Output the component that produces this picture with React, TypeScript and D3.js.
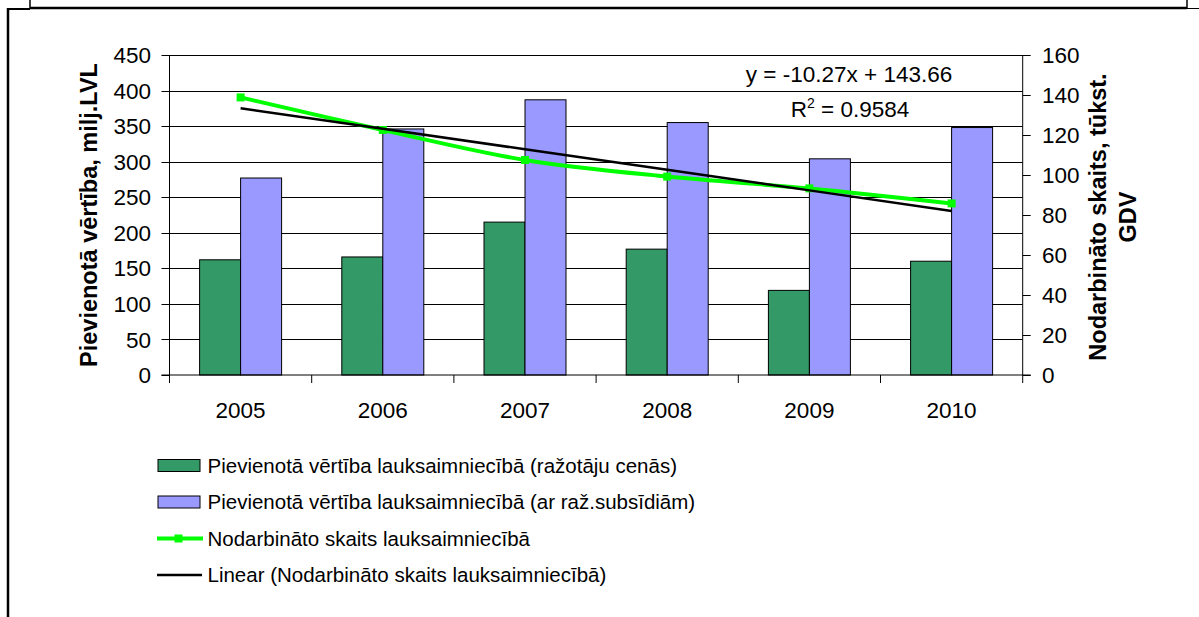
import React, { useRef, useEffect } from 'react';
import * as d3 from 'd3';

const years = ['2005', '2006', '2007', '2008', '2009', '2010'];
const valueProducerPrices = [162, 166, 215, 177, 119, 160];
const valueWithSubsidies = [277, 346, 387, 355, 304, 348];
const employed = [138.8, 122.5, 107.5, 99.2, 93.3, 85.8];
const trendSlope = -10.27;
const trendIntercept = 143.66;
const trendR2 = 0.9584;
const leftTicks = [0, 50, 100, 150, 200, 250, 300, 350, 400, 450];
const rightTicks = [0, 20, 40, 60, 80, 100, 120, 140, 160];
const legendLabels = [
  'Pievienotā vērtība lauksaimniecībā (ražotāju cenās)',
  'Pievienotā vērtība lauksaimniecībā (ar raž.subsīdiām)',
  'Nodarbināto skaits lauksaimniecībā',
  'Linear (Nodarbināto skaits lauksaimniecībā)'
];

const FONT = '"Liberation Sans", Arial, sans-serif';

const draw = (svgEl: SVGSVGElement) => {
  const svg = d3.select(svgEl);
  svg.selectAll('*').remove();

  const left = 169.5;
  const right = 1022.7;
  const top = 55;
  const bottom = 375;

  const x = d3.scaleBand().domain(years).range([left, right]);
  const yL = d3.scaleLinear().domain([0, 450]).range([bottom, top]);
  const yR = d3.scaleLinear().domain([0, 160]).range([bottom, top]);
  const barW = 41;
  const cx = (i: number) => x(years[i])! + x.bandwidth() / 2;

  // outer frame (page table borders)
  const frame = svg.append('g').attr('stroke', '#000').attr('fill', 'none');
  frame.append('line').attr('x1', 8).attr('y1', 8).attr('x2', 8).attr('y2', 617).attr('stroke-width', 2.5);
  frame.append('line').attr('x1', 8).attr('y1', 9).attr('x2', 30).attr('y2', 9).attr('stroke-width', 2);
  frame.append('line').attr('x1', 30).attr('y1', 8).attr('x2', 1187).attr('y2', 8).attr('stroke-width', 2.5);
  frame.append('line').attr('x1', 1187).attr('y1', 8.5).attr('x2', 1199).attr('y2', 8.5).attr('stroke-width', 1);
  frame.append('line').attr('x1', 30).attr('y1', 0).attr('x2', 30).attr('y2', 8).attr('stroke-width', 1.5);
  frame.append('line').attr('x1', 1187).attr('y1', 0).attr('x2', 1187).attr('y2', 8).attr('stroke-width', 1.5);

  // gridlines
  svg
    .append('g')
    .selectAll('line')
    .data(leftTicks.filter((t) => t > 0))
    .join('line')
    .attr('x1', left)
    .attr('x2', right)
    .attr('y1', (d) => Math.round(yL(d)) + 0.5)
    .attr('y2', (d) => Math.round(yL(d)) + 0.5)
    .attr('stroke', '#000')
    .attr('stroke-width', 1);

  // bars
  const groups = svg
    .append('g')
    .selectAll('g')
    .data(years)
    .join('g')
    .attr('transform', (d, i) => `translate(${cx(i)},0)`);

  groups
    .append('rect')
    .attr('x', -barW)
    .attr('y', (d, i) => yL(valueProducerPrices[i]))
    .attr('width', barW)
    .attr('height', (d, i) => bottom - yL(valueProducerPrices[i]))
    .attr('fill', '#339966')
    .attr('stroke', '#000')
    .attr('stroke-width', 1);

  groups
    .append('rect')
    .attr('x', 0)
    .attr('y', (d, i) => yL(valueWithSubsidies[i]))
    .attr('width', barW)
    .attr('height', (d, i) => bottom - yL(valueWithSubsidies[i]))
    .attr('fill', '#9999FF')
    .attr('stroke', '#000')
    .attr('stroke-width', 1);

  // axes
  const axes = svg.append('g').attr('stroke', '#000').attr('stroke-width', 1);
  axes.append('line').attr('x1', left).attr('x2', left).attr('y1', top).attr('y2', bottom);
  axes.append('line').attr('x1', right).attr('x2', right).attr('y1', top).attr('y2', bottom);
  axes.append('line').attr('x1', left - 8).attr('x2', right + 8).attr('y1', bottom).attr('y2', bottom);

  axes
    .selectAll('line.tl')
    .data(leftTicks)
    .join('line')
    .attr('class', 'tl')
    .attr('x1', left - 8)
    .attr('x2', left)
    .attr('y1', (d) => Math.round(yL(d)) + 0.5)
    .attr('y2', (d) => Math.round(yL(d)) + 0.5);

  axes
    .selectAll('line.tr')
    .data(rightTicks)
    .join('line')
    .attr('class', 'tr')
    .attr('x1', right)
    .attr('x2', right + 8)
    .attr('y1', (d) => Math.round(yR(d)) + 0.5)
    .attr('y2', (d) => Math.round(yR(d)) + 0.5);

  axes
    .selectAll('line.tb')
    .data([...years.map((d) => x(d)!), right])
    .join('line')
    .attr('class', 'tb')
    .attr('x1', (d) => d)
    .attr('x2', (d) => d)
    .attr('y1', bottom)
    .attr('y2', bottom + 8);

  const labels = svg.append('g').attr('font-family', FONT).attr('fill', '#000');

  labels
    .selectAll('text.ll')
    .data(leftTicks)
    .join('text')
    .attr('class', 'll')
    .attr('x', 151)
    .attr('y', (d) => yL(d))
    .attr('dy', '0.36em')
    .attr('text-anchor', 'end')
    .attr('font-size', 22.5)
    .text((d) => d);

  labels
    .selectAll('text.rl')
    .data(rightTicks)
    .join('text')
    .attr('class', 'rl')
    .attr('x', 1042)
    .attr('y', (d) => yR(d))
    .attr('dy', '0.36em')
    .attr('font-size', 22.5)
    .text((d) => d);

  labels
    .selectAll('text.bl')
    .data(years)
    .join('text')
    .attr('class', 'bl')
    .attr('x', (d, i) => cx(i))
    .attr('y', 418)
    .attr('text-anchor', 'middle')
    .attr('font-size', 22.5)
    .text((d) => d);

  // axis titles
  labels
    .append('text')
    .attr('transform', 'translate(97,215) rotate(-90)')
    .attr('text-anchor', 'middle')
    .attr('font-size', 23.5)
    .attr('font-weight', 'bold')
    .text('Pievienotā vērtība, milj.LVL');

  labels
    .append('text')
    .attr('transform', 'translate(1106,217) rotate(-90)')
    .attr('text-anchor', 'middle')
    .attr('font-size', 23.5)
    .attr('font-weight', 'bold')
    .text('Nodarbināto skaits, tūkst.');

  labels
    .append('text')
    .attr('transform', 'translate(1136,217) rotate(-90)')
    .attr('text-anchor', 'middle')
    .attr('font-size', 23.5)
    .attr('font-weight', 'bold')
    .text('GDV');

  // employed line (smoothed) with square markers
  const line = d3
    .line<number>()
    .x((d, i) => cx(i))
    .y((d) => yR(d))
    .curve(d3.curveCatmullRom.alpha(0.5));

  svg
    .append('path')
    .attr('d', line(employed))
    .attr('fill', 'none')
    .attr('stroke', '#00FF00')
    .attr('stroke-width', 4);

  svg
    .append('g')
    .selectAll('rect')
    .data(employed)
    .join('rect')
    .attr('x', (d, i) => cx(i) - 4)
    .attr('y', (d) => yR(d) - 4)
    .attr('width', 8)
    .attr('height', 8)
    .attr('fill', '#00FF00');

  // linear trendline
  const trend = years.map((d, i) => trendSlope * (i + 1) + trendIntercept);
  svg
    .append('path')
    .attr(
      'd',
      d3
        .line<number>()
        .x((d, i) => cx(i))
        .y((d) => yR(d))(trend)
    )
    .attr('fill', 'none')
    .attr('stroke', '#000')
    .attr('stroke-width', 2.5);

  // equation
  labels
    .append('text')
    .attr('x', 849)
    .attr('y', 82)
    .attr('text-anchor', 'middle')
    .attr('font-size', 22.5)
    .text(`y = ${trendSlope}x + ${trendIntercept}`);

  const r2 = labels
    .append('text')
    .attr('x', 850)
    .attr('y', 117)
    .attr('text-anchor', 'middle')
    .attr('font-size', 22.5);
  r2.append('tspan').text('R');
  r2.append('tspan').attr('font-size', 14).attr('dy', -9).text('2');
  r2.append('tspan').attr('dy', 9).text(` = ${trendR2}`);

  // legend
  const legend = svg.append('g').attr('font-family', FONT);
  const rowY = [465.5, 502, 538.5, 575];
  const lg = legend
    .selectAll('g')
    .data(legendLabels)
    .join('g')
    .attr('transform', (d, i) => `translate(0,${rowY[i]})`);

  lg.append('text')
    .attr('x', 207.5)
    .attr('dy', '0.36em')
    .attr('font-size', 20.5)
    .text((d) => d);

  lg.filter((d, i) => i < 2)
    .append('rect')
    .attr('x', 158)
    .attr('y', -6)
    .attr('width', 42)
    .attr('height', 12)
    .attr('fill', (d, i) => (i === 0 ? '#339966' : '#9999FF'))
    .attr('stroke', '#000')
    .attr('stroke-width', 1);

  lg.filter((d, i) => i === 2)
    .append('line')
    .attr('x1', 157)
    .attr('x2', 203)
    .attr('stroke', '#00FF00')
    .attr('stroke-width', 4);

  lg.filter((d, i) => i === 2)
    .append('rect')
    .attr('x', 174.5)
    .attr('y', -4)
    .attr('width', 8)
    .attr('height', 8)
    .attr('fill', '#00FF00');

  lg.filter((d, i) => i === 3)
    .append('line')
    .attr('x1', 157)
    .attr('x2', 202)
    .attr('stroke', '#000')
    .attr('stroke-width', 2.5);
};

export default function App() {
  const ref = useRef<SVGSVGElement>(null);

  useEffect(() => {
    if (ref.current) draw(ref.current);
  }, []);

  return (
    <svg
      ref={ref}
      width={1199}
      height={617}
      style={{ position: 'absolute', left: 0, top: 0, background: '#fff' }}
    />
  );
}
